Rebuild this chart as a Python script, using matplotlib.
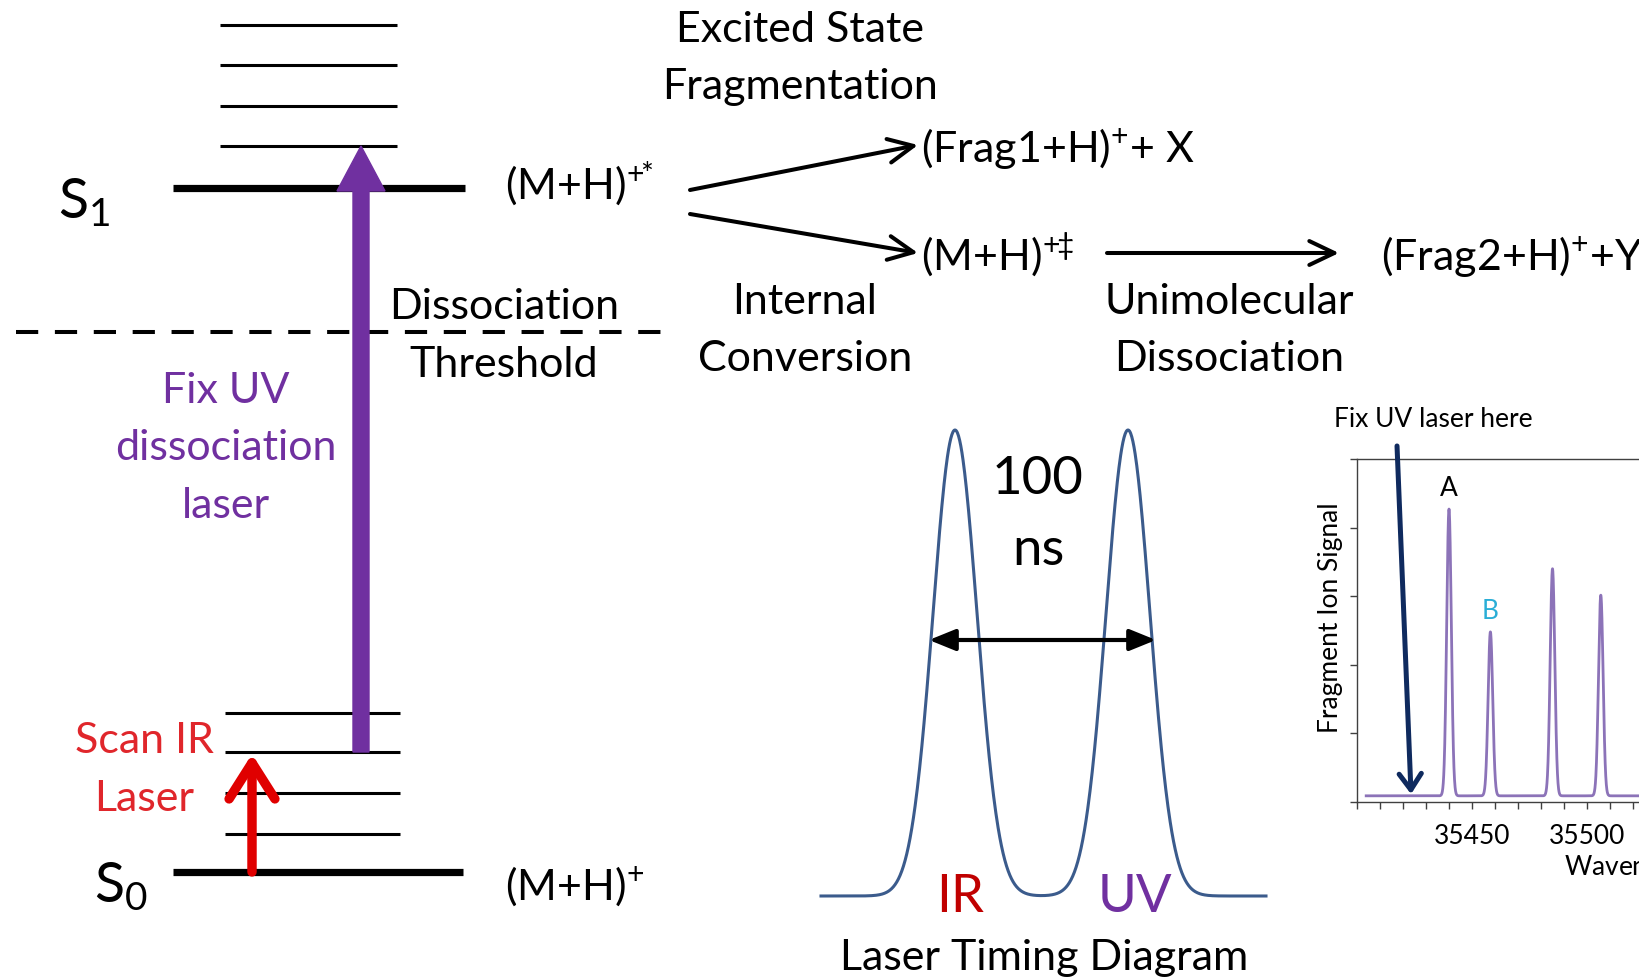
import numpy as np
import matplotlib
matplotlib.use('Agg')
import matplotlib.pyplot as plt
from matplotlib.ticker import MultipleLocator, FuncFormatter

plt.rcParams['font.family'] = ['Lato', 'DejaVu Sans']
plt.rcParams['mathtext.fontset'] = 'custom'
plt.rcParams['mathtext.rm'] = 'Lato'
plt.rcParams['mathtext.it'] = 'Lato:italic'
plt.rcParams['mathtext.bf'] = 'Lato:bold'
plt.rcParams['lines.scale_dashes'] = False

W, H, DPI = 1640, 979, 100

# ---------------- data ----------------
# energy-level diagram (schematic level heights, pixel layout)
s1_vib_levels = [26, 66, 107, 147]
s1_level = 189
s0_vib_levels = [714, 753, 794, 835]
s0_level = 873
threshold_level = 333

# IR spectrum inset
peak_labels = ['A', 'B', '', '']
peak_label_colors = ['black', '#2aaed6', 'black', 'black']
peak_positions = [35440, 35458, 35485, 35506]   # cm^-1
peak_heights = [0.854, 0.496, 0.680, 0.603]
spec_baseline = 0.018
spec_start = 35404
fix_uv_position = 35423.5
inset_xlim = (35400, 35600)
labelled_xticks = [35450, 35500]

# laser timing diagram
pulse_names = ['IR', 'UV']
pulse_colors = ['#c00000', '#7030a0']
pulse_centers = [955, 1128]
pulse_amplitude = 466
pulse_sigma = 22
pulse_baseline = 897
pulse_xrange = (821, 1266)

PURPLE = '#7030a0'
RED = '#e00000'

fig = plt.figure(figsize=(W / DPI, H / DPI), dpi=DPI)
fig.patch.set_facecolor('white')
ax = fig.add_axes([0, 0, 1, 1])
ax.set_xlim(0, W)
ax.set_ylim(H, 0)
ax.axis('off')

# ---- energy levels ----
ax.hlines(s1_vib_levels, 220, 397, color='black', lw=2.2)
ax.hlines(s0_vib_levels, 225, 400, color='black', lw=2.2)
ax.hlines([s1_level], 173, 465, color='black', lw=5.2)
ax.hlines([s0_level], 173, 463, color='black', lw=5.2)
ax.plot([16, 669], [threshold_level, threshold_level], color='black', lw=2.9,
        dashes=(16, 12))

# UV arrow (filled head)
ax.arrow(361, s0_vib_levels[1], 0, s1_vib_levels[-1] - s0_vib_levels[1],
         width=16, head_width=48, head_length=45, length_includes_head=True,
         color=PURPLE, zorder=5)


def arrow(x0, y0, x1, y1, style, lw, color, z=6, a=None):
    target = a if a is not None else ax
    target.annotate('', xy=(x1, y1), xytext=(x0, y0),
                    arrowprops=dict(arrowstyle=style, lw=lw, color=color,
                                    shrinkA=0, shrinkB=0, mutation_scale=1),
                    zorder=z, annotation_clip=False)


# IR arrow (open head)
arrow(252, s0_level, 252, s0_vib_levels[1] + 2, '->,head_length=26,head_width=16.5',
      6.8, RED)

# reaction arrows
arrow(690, 191, 918, 146, '->,head_length=18,head_width=8.6', 2.9, 'black')
arrow(690, 215, 918, 254, '->,head_length=18,head_width=8.6', 2.9, 'black')
arrow(1107, 254, 1339, 254, '->,head_length=18,head_width=8.6', 2.9, 'black')


def txt(x, y, s, size=31, color='black', ha='center', a=None):
    (a or ax).text(x, y, s, fontsize=size, color=color, ha=ha, va='baseline')


txt(800, 42, 'Excited State')
txt(800, 99, 'Fragmentation')
txt(921, 162, '(Frag1+H)$^{+}$+ X', ha='left')
txt(505, 199, r'(M+H)$^{+\!\!*}$', ha='left')
txt(921, 270, r'(M+H)$^{+\!\!\ddagger}$', ha='left')
txt(1381, 270, '(Frag2+H)$^{+}$+Y', ha='left')
txt(504, 319, 'Dissociation')
txt(504, 377, 'Threshold')
txt(805, 314, 'Internal')
txt(805, 371, 'Conversion')
txt(1229, 314, 'Unimolecular')
txt(1229, 371, 'Dissociation')
txt(226, 403, 'Fix UV', color=PURPLE)
txt(226, 460, 'dissociation', color=PURPLE)
txt(226, 518, 'laser', color=PURPLE)
txt(144, 753, 'Scan IR', color='#e0262b')
txt(144, 811, 'Laser', color='#e0262b')
txt(58, 218, 'S$_1$', size=40, ha='left')
txt(94, 902, 'S$_0$', size=40, ha='left')
txt(505, 900, '(M+H)$^{+}$', ha='left')

# ---- laser timing diagram ----
tx = np.linspace(pulse_xrange[0], pulse_xrange[1], 800)
ty = np.zeros_like(tx)
for c in pulse_centers:
    ty += np.exp(-0.5 * ((tx - c) / pulse_sigma) ** 2)
ax.plot(tx, pulse_baseline - pulse_amplitude * ty, color='#3b5b8c', lw=2.2)
arrow(929, 641, 1156, 641, '<|-|>,head_length=16,head_width=6.5', 3.0, 'black')
txt(1038, 494, '100', size=38)
txt(1038, 565, 'ns', size=38)
for name, col, c in zip(pulse_names, pulse_colors, [960, 1135]):
    txt(c, 912, name, size=38, color=col)
txt(1044, 970, 'Laser Timing Diagram')

# ---- inset spectrum ----
left_px, right_px, top_px, bot_px = 1357, 1357 + 460, 460, 803
axi = fig.add_axes([left_px / W, (H - bot_px) / H, (right_px - left_px) / W,
                    (bot_px - top_px) / H])
axi.set_facecolor('none')
xs = np.arange(spec_start, inset_xlim[1], 0.05)
ys = np.full_like(xs, spec_baseline)
for p, h in zip(peak_positions, peak_heights):
    ys += (h - spec_baseline) * np.exp(-0.5 * ((xs - p) / 1.0) ** 2)
axi.plot(xs, ys, color='#8c73b8', lw=2.0)
axi.set_xlim(*inset_xlim)
axi.set_ylim(0, 1)
axi.xaxis.set_major_locator(MultipleLocator(10))
axi.xaxis.set_major_formatter(FuncFormatter(
    lambda v, p: f'{v:.0f}' if int(round(v)) in labelled_xticks else ''))
axi.set_yticks(np.linspace(0, 1, 6))
axi.set_yticklabels([])
axi.tick_params(axis='both', direction='out', length=5, width=1, color='#404040',
                labelsize=19, pad=10)
axi.tick_params(axis='y', pad=3)
for sp in ['left', 'bottom', 'top']:
    axi.spines[sp].set_color('#404040')
    axi.spines[sp].set_linewidth(1.0)
axi.spines['right'].set_visible(False)
axi.set_ylabel('Fragment Ion Signal', fontsize=19)
axi.yaxis.set_label_coords(-0.031, 0.54)
axi.set_xlabel('Wavenumber (cm$^{-1}$)', fontsize=19, ha='left')
axi.xaxis.set_label_coords((1564 - left_px) / (right_px - left_px), -0.14)
for lab, col, p, h in zip(peak_labels, peak_label_colors, peak_positions, peak_heights):
    if lab:
        axi.text(p, h + 0.04, lab, fontsize=19, color=col, ha='center', va='baseline')
arrow(35417.4, 1.038, fix_uv_position, 0.023, '->,head_length=11.5,head_width=8',
      3.6, '#0f2a5e', a=axi)
txt(1334, 427, 'Fix UV laser here', size=19, ha='left')

fig.savefig('out.png', dpi=DPI)
